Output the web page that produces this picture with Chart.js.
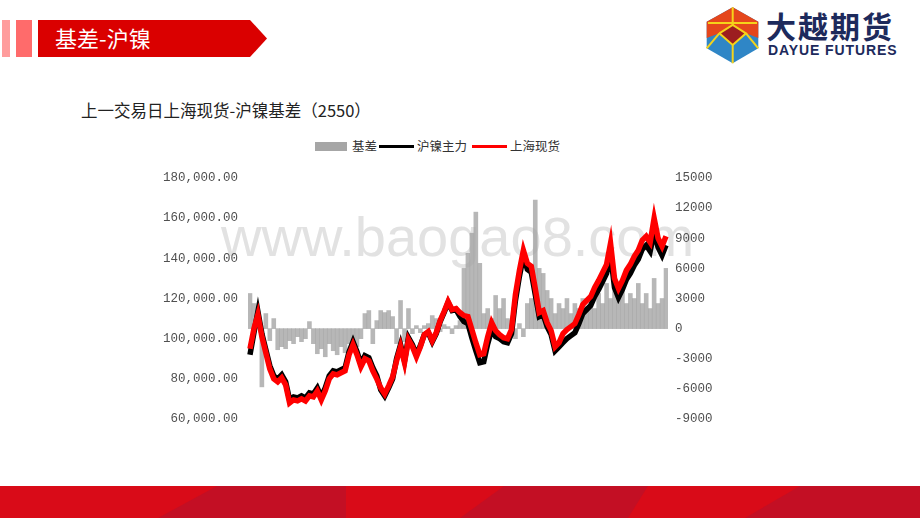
<!DOCTYPE html>
<html><head><meta charset="utf-8">
<script src="https://cdn.jsdelivr.net/npm/chart.js@4.4.1/dist/chart.umd.min.js"></script>
<style>
html,body{margin:0;padding:0;background:#fff;}
body{width:920px;height:518px;position:relative;overflow:hidden;font-family:"Noto Sans CJK SC","Noto Sans",sans-serif;}
.abs{position:absolute;white-space:nowrap;}
#wm{left:221px;top:204px;font:56px "Liberation Sans",Arial,sans-serif;color:#e2e2e2;}
#chartBox{left:150px;top:160px;width:580px;height:280px;}
#hdrText{left:55px;top:22px;font-size:22px;line-height:30px;color:#fff;}
#title{left:81px;top:98px;font-size:16.5px;line-height:24px;color:#222;}
.lg{font-size:12.5px;line-height:16px;color:#333;top:138px;}
#logoCn{left:766px;top:6px;font-size:30px;line-height:38px;font-weight:700;color:#1d2a5c;letter-spacing:2px;}
#logoEn{left:768px;top:42px;font:700 14px "Liberation Sans",Arial,sans-serif;line-height:17px;color:#1d2a5c;letter-spacing:0.9px;}
</style>
</head><body>

<svg class="abs" style="left:0;top:0" width="280" height="70">
  <rect x="2" y="20" width="8" height="37" fill="#ff9c9c"/>
  <rect x="16" y="20" width="16" height="37" fill="#ff6b6b"/>
  <polygon points="38,20 250,20 267,38.5 250,57 38,57" fill="#da0000"/>
</svg>
<div id="hdrText" class="abs">基差-沪镍</div>

<svg class="abs" style="left:700px;top:0" width="64" height="70">
  <polygon points="6.7,21.7 32.7,7.3 58.3,21.7 58.3,48.3 32.7,63.3 6.7,48.3" fill="#2f86c6"/>
  <polygon points="6.7,21.7 32.7,7.3 58.3,21.7 58.3,38 46,33.3 32.7,45 19.3,33.3 6.7,38" fill="#e5461c"/>
  <polygon points="19.3,33.3 32.7,25 46,33.3 32.7,45" fill="#9c1d20"/>
  <g stroke="#f5d31a" stroke-width="2" fill="none">
    <line x1="8" y1="23" x2="57" y2="23"/>
    <line x1="32.7" y1="7.3" x2="32.7" y2="25"/>
    <polyline points="19.3,33.3 32.7,25 46,33.3 32.7,45 19.3,33.3"/>
    <line x1="19.3" y1="33.3" x2="6.7" y2="48.3"/>
    <line x1="46" y1="33.3" x2="58.3" y2="48.3"/>
    <line x1="32.7" y1="45" x2="32.7" y2="63.3"/>
  </g>
</svg>
<div id="logoCn" class="abs">大越期货</div>
<div id="logoEn" class="abs">DAYUE FUTURES</div>

<div id="title" class="abs">上一交易日上海现货-沪镍基差（2550）</div>

<div class="abs" style="left:315px;top:142px;width:32px;height:9px;background:#a6a6a6"></div>
<div class="abs lg" style="left:352px">基差</div>
<div class="abs" style="left:379px;top:145px;width:35px;height:3px;background:#000"></div>
<div class="abs lg" style="left:417px">沪镍主力</div>
<div class="abs" style="left:472px;top:145px;width:35px;height:3px;background:#f00"></div>
<div class="abs lg" style="left:510px">上海现货</div>

<div id="wm" class="abs">www.baogao8.com</div>
<div id="chartBox" class="abs"><canvas id="c" width="580" height="280"></canvas></div>

<svg class="abs" style="left:0;top:486px" width="920" height="32">
  <rect x="0" y="0" width="920" height="32" fill="#d90b18"/>
  <polygon points="217,0 346,0 346,32 158,32" fill="#c30f24"/>
  <polygon points="504,0 648,0 628,32 460,32" fill="#c30f24"/>
  <polygon points="800,0 920,0 920,32 745,32" fill="#c30f24"/>
</svg>

<script>
// hidden trading-period categories
const periods = Array.from({length: 106}, (_, i) => 'P' + (i + 1));

// 上海现货 (yuan/ton)
const spotSH = [
  95000,105000,112000,101000,93000,85000,80000,78500,80500,77000,
  68000,69500,69000,70000,69000,71500,71000,74000,69500,74000,
  80000,82500,82000,83000,84000,92000,97000,92000,86000,90000,
  89000,84000,80000,75500,72500,76500,81000,89000,96000,88000,
  99500,96000,91000,96000,102000,103500,99000,103000,109000,113500,
  118500,114500,115000,113000,111500,111000,104500,98000,92000,92500,
  101000,108000,104000,102000,100500,100000,104500,122000,134000,144000,
  137500,136000,125000,113000,114000,108000,104000,96000,98000,102500,
  104500,106000,107500,112000,117000,119000,121000,125500,129000,133000,
  137000,147500,130000,125000,129000,134000,137000,141000,144000,149000,
  151000,148000,160000,150000,146000,151000
];

// 沪镍主力 (yuan/ton)
const futMain = [
  92000,103000,113500,102500,94500,86500,81500,80000,82000,78500,
  69500,71000,70500,71500,70500,73000,72500,75500,71000,75500,
  81500,84000,83500,84500,85500,93500,98500,93500,87500,91500,
  90500,85500,81500,74500,71500,75500,80000,90000,97000,89000,
  100500,97000,92000,96500,102000,103000,98500,102500,108500,113000,
  118000,114000,114500,111000,108500,107500,100500,94000,88000,88500,
  97500,104500,101000,100000,98500,98000,102500,119000,131000,141000,
  134500,133000,122000,111000,112000,106000,102000,94000,96000,98000,
  100000,101500,103000,107500,112500,114500,116500,121000,124500,128500,
  132500,142000,125500,120500,124500,129500,132500,136500,139500,144500,
  146500,143500,153000,145500,141500,146500
];

// 基差 (right axis)
const basis = [
  3500,2500,1500,-5800,1500,-1200,1000,-2100,-1800,-2000,
  -1200,-1500,-800,-1300,-1000,700,-1500,-2500,-2000,-2800,
  -1500,-2200,-2600,-1800,-2400,-1500,-1200,-1800,-1000,1500,
  1800,-1500,800,1800,1600,1800,1200,-1500,2800,-1300,
  2000,-500,300,-400,300,500,1300,1000,-300,400,
  200,-500,300,800,6000,7500,9500,11600,6500,1500,
  2000,1000,3300,2000,3000,1000,800,-1000,500,-800,
  2500,3000,12800,6000,5500,3800,3000,1500,2500,2000,
  3000,1500,2500,2000,3000,2200,2800,2000,3500,2500,
  4500,3000,5000,3000,4000,2500,3500,3000,4500,2500,
  3500,2000,5000,2500,3000,6000
];

const leftTicks = {min: 60000, max: 180000, step: 20000};
const rightTicks = {min: -9000, max: 15000, step: 3000};

const tickFont = {family: '"Liberation Mono","DejaVu Sans Mono",monospace', size: 12.5};

new Chart(document.getElementById('c'), {
  type: 'bar',
  data: {
    labels: periods,
    datasets: [
      {label: '基差', type: 'bar', data: basis, yAxisID: 'yR',
       backgroundColor: 'rgba(165,165,165,0.8)', borderWidth: 0,
       barPercentage: 1, categoryPercentage: 1, order: 3},
      {label: '沪镍主力', type: 'line', data: futMain, yAxisID: 'yL',
       borderColor: '#000000', borderWidth: 5.5, pointRadius: 0, tension: 0, order: 2},
      {label: '上海现货', type: 'line', data: spotSH, yAxisID: 'yL',
       borderColor: '#ff0000', borderWidth: 5.5, pointRadius: 0, tension: 0, order: 1}
    ]
  },
  options: {
    responsive: false,
    animation: false,
    events: [],
    layout: {padding: {top: 18, bottom: 21, left: 0, right: 0}},
    plugins: {legend: {display: false}, tooltip: {enabled: false}},
    scales: {
      x: {display: false},
      yL: {
        position: 'left', min: leftTicks.min, max: leftTicks.max,
        grid: {display: false, drawTicks: false}, border: {display: false},
        ticks: {stepSize: leftTicks.step, padding: 10, color: '#505050', font: tickFont,
          callback: v => v.toLocaleString('en-US', {minimumFractionDigits: 2, maximumFractionDigits: 2})},
        afterFit: s => { s.width = 98; }
      },
      yR: {
        position: 'right', min: rightTicks.min, max: rightTicks.max,
        grid: {display: false, drawTicks: false}, border: {display: false},
        ticks: {stepSize: rightTicks.step, padding: 7, color: '#505050', font: tickFont,
          callback: v => String(v)},
        afterFit: s => { s.width = 62; }
      }
    }
  }
});
</script>
</body></html>
